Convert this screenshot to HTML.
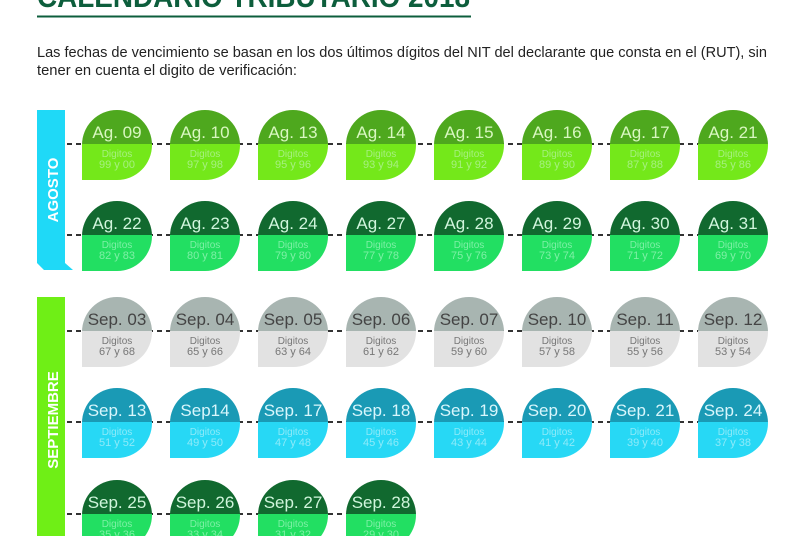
<!DOCTYPE html>
<html><head><meta charset="utf-8"><style>
html,body{margin:0;padding:0;background:#fff;width:805px;height:536px;overflow:hidden}
svg text{font-family:"Liberation Sans",sans-serif}
</style></head><body>
<svg width="805" height="536" viewBox="0 0 805 536" xmlns="http://www.w3.org/2000/svg">
<text x="37" y="7" font-size="30" font-weight="bold" fill="#0d5e3c" textLength="433" lengthAdjust="spacingAndGlyphs">CALENDARIO TRIBUTARIO 2018</text>
<line x1="37" y1="16.5" x2="471" y2="16.5" stroke="#0d5e3c" stroke-width="2"/>
<text x="37" y="57" font-size="14.5" fill="#222" textLength="730" lengthAdjust="spacingAndGlyphs">Las fechas de vencimiento se basan en los dos últimos dígitos del NIT del declarante que consta en el (RUT), sin</text>
<text x="37" y="75" font-size="14.5" fill="#222" textLength="260" lengthAdjust="spacingAndGlyphs">tener en cuenta el digito de verificación:</text>

<polygon points="37,110 65,110 65,263 73,270 44,270 37,263" fill="#1fd9f7"/>
<text transform="translate(58,190) rotate(-90)" text-anchor="middle" font-size="15" font-weight="bold" fill="#fff">AGOSTO</text>
<rect x="37" y="297" width="28" height="239" fill="#6fef16"/>
<text transform="translate(58,420) rotate(-90)" text-anchor="middle" font-size="15" font-weight="bold" fill="#fff">SEPTIEMBRE</text>

<g stroke="#333" stroke-width="2" stroke-dasharray="5,4">
<line x1="67" y1="144" x2="700" y2="144"/>
<line x1="67" y1="235" x2="700" y2="235"/>
<line x1="67" y1="331" x2="700" y2="331"/>
<line x1="67" y1="422" x2="700" y2="422"/>
<line x1="67" y1="514" x2="350" y2="514"/>
</g>
<g id="b"></g>
</svg>
<script>
var rows=[
 [110,"#4ea81e","#74e81a","#d8f7c0",["Ag. 09","Ag. 10","Ag. 13","Ag. 14","Ag. 15","Ag. 16","Ag. 17","Ag. 21"],["99 y 00","97 y 98","95 y 96","93 y 94","91 y 92","89 y 90","87 y 88","85 y 86"],"#a6f080"],
 [201,"#11692f","#22df62","#d0f5dc",["Ag. 22","Ag. 23","Ag. 24","Ag. 27","Ag. 28","Ag. 29","Ag. 30","Ag. 31"],["82 y 83","80 y 81","79 y 80","77 y 78","75 y 76","73 y 74","71 y 72","69 y 70"],"#7ff0a6"],
 [297,"#a8b5b1","#e2e2e2","#444",["Sep. 03","Sep. 04","Sep. 05","Sep. 06","Sep. 07","Sep. 10","Sep. 11","Sep. 12"],["67 y 68","65 y 66","63 y 64","61 y 62","59 y 60","57 y 58","55 y 56","53 y 54"],"#777"],
 [388,"#1a9ab5","#27d8f5","#d8f6fc",["Sep. 13","Sep14","Sep. 17","Sep. 18","Sep. 19","Sep. 20","Sep. 21","Sep. 24"],["51 y 52","49 y 50","47 y 48","45 y 46","43 y 44","41 y 42","39 y 40","37 y 38"],"#8deaf9"],
 [480,"#11692f","#22df62","#d0f5dc",["Sep. 25","Sep. 26","Sep. 27","Sep. 28"],["35 y 36","33 y 34","31 y 32","29 y 30"],"#7ff0a6"]
];
var s="";
rows.forEach(function(r){
 var y=r[0];
 r[4].forEach(function(d,i){
  var x=82+88*i;
  s+='<path d="M'+x+','+(y+35)+' A35,35 0 0 1 '+(x+70)+','+(y+35)+' Z" fill="'+r[1]+'"/>';
  s+='<path d="M'+x+','+(y+34)+' H'+(x+70)+' V'+(y+35)+' A35,35 0 0 1 '+(x+35)+','+(y+70)+' H'+x+' Z" fill="'+r[2]+'"/>';
  s+='<text x="'+(x+35)+'" y="'+(y+28)+'" text-anchor="middle" font-size="17" fill="'+r[3]+'">'+d+'</text>';
  s+='<text x="'+(x+35)+'" y="'+(y+47)+'" text-anchor="middle" font-size="10" fill="'+r[6]+'">Digitos</text>';
  s+='<text x="'+(x+35)+'" y="'+(y+58)+'" text-anchor="middle" font-size="11" fill="'+r[6]+'">'+r[5][i]+'</text>';
 });
});
document.getElementById("b").innerHTML=s;
</script>
</body></html>
